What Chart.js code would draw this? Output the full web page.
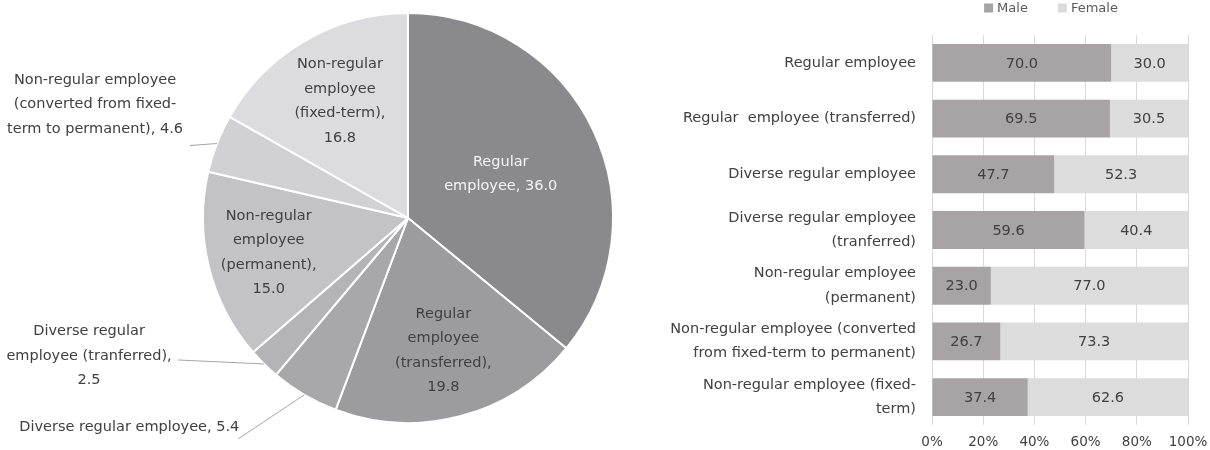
<!DOCTYPE html>
<html>
<head>
<meta charset="utf-8">
<script src="https://cdn.jsdelivr.net/npm/chart.js@4.4.1/dist/chart.umd.min.js"></script>
<style>
  html, body { margin: 0; padding: 0; background: #fff; }
  #wrap { position: relative; width: 1210px; height: 450px; }
  #pieBox { position: absolute; left: 0; top: 0; width: 620px; height: 450px; }
  #barBox { position: absolute; left: 620px; top: 0; width: 590px; height: 450px; }
</style>
</head>
<body>
<div id="wrap">
  <div id="pieBox"><canvas id="pieChart"></canvas></div>
  <div id="barBox"><canvas id="barChart"></canvas></div>
</div>
<script>
const FONT = "'DejaVu Sans', sans-serif";
const TEXT = "#404040";

// employment type breakdown (%)
const pieCategories = [
  "Regular employee",
  "Regular employee (transferred)",
  "Diverse regular employee",
  "Diverse regular employee (tranferred)",
  "Non-regular employee (permanent)",
  "Non-regular employee (converted from fixed-term to permanent)",
  "Non-regular employee (fixed-term)"
];
const pieShares = [36.0, 19.8, 5.4, 2.5, 15.0, 4.6, 16.8];
const pieColors = ["#8a8a8c", "#9c9c9e", "#a8a8aa", "#b4b4b6", "#c3c3c5", "#d1d1d3", "#dcdcde"];

// how each slice label is wrapped and placed
// own: value goes on its own line; r: radius fraction for labels inside the slice;
// out: leader end + text centre, as offsets from the slice's outer edge
const pieLabelLayout = [
  { lines: ["Regular", "employee"], own: false, r: 0.5, color: "#f4f4f4" },
  { lines: ["Regular", "employee", "(transferred)"], own: true, r: 0.67 },
  { lines: ["Diverse regular employee"], own: false, out: { line: [-66, 44], text: [-175, 32] } },
  { lines: ["Diverse regular", "employee (tranferred)"], own: true, out: { line: [-86, -4], text: [-175, -8] } },
  { lines: ["Non-regular", "employee", "(permanent)"], own: true, r: 0.7 },
  { lines: ["Non-regular employee", "(converted from fixed-", "term to permanent)"], own: false, out: { line: [-27, 2], text: [-122, -39] } },
  { lines: ["Non-regular", "employee", "(fixed-term)"], own: true, r: 0.66 }
];

// male / female split by employment type (%)
const barCategories = [
  ["Regular employee"],
  ["Regular  employee (transferred)"],
  ["Diverse regular employee"],
  ["Diverse regular employee", "(tranferred)"],
  ["Non-regular employee", "(permanent)"],
  ["Non-regular employee (converted", "from fixed-term to permanent)"],
  ["Non-regular employee (fixed-", "term)"]
];
const maleShare = [70.0, 69.5, 47.7, 59.6, 23.0, 26.7, 37.4];
const femaleShare = [30.0, 30.5, 52.3, 40.4, 77.0, 73.3, 62.6];
const seriesNames = ["Male", "Female"];
const xTickValues = [0, 20, 40, 60, 80, 100];

const LINE_H = 24.5;

function drawBlock(ctx, lines, cx, cy) {
  const top = cy - (lines.length - 1) * LINE_H / 2;
  lines.forEach((t, k) => ctx.fillText(t, cx, top + k * LINE_H));
}

// slice labels with leader lines for the thin slices
const pieLabelPlugin = {
  id: "pieLabels",
  afterDatasetsDraw(chart) {
    const ctx = chart.ctx;
    const meta = chart.getDatasetMeta(0);
    ctx.save();
    ctx.font = "14.5px " + FONT;
    ctx.textAlign = "center";
    ctx.textBaseline = "middle";
    meta.data.forEach((arc, i) => {
      const L = pieLabelLayout[i];
      const val = pieShares[i].toFixed(1);
      let lines = L.lines.slice();
      if (L.own) {
        lines[lines.length - 1] += ",";
        lines.push(val);
      } else {
        lines[lines.length - 1] += ", " + val;
      }
      const mid = (arc.startAngle + arc.endAngle) / 2;
      const R = arc.outerRadius;
      if (L.out) {
        const ex = arc.x + Math.cos(mid) * R;
        const ey = arc.y + Math.sin(mid) * R;
        ctx.strokeStyle = "#a6a6a6";
        ctx.lineWidth = 1;
        ctx.beginPath();
        ctx.moveTo(ex, ey);
        ctx.lineTo(ex + L.out.line[0], ey + L.out.line[1]);
        ctx.stroke();
        ctx.fillStyle = TEXT;
        drawBlock(ctx, lines, ex + L.out.text[0], ey + L.out.text[1]);
      } else {
        ctx.fillStyle = L.color || TEXT;
        drawBlock(ctx, lines, arc.x + Math.cos(mid) * R * L.r, arc.y + Math.sin(mid) * R * L.r);
      }
    });
    ctx.restore();
  }
};

new Chart(document.getElementById("pieChart"), {
  type: "pie",
  data: {
    labels: pieCategories,
    datasets: [{
      data: pieShares,
      backgroundColor: pieColors,
      borderColor: "#ffffff",
      borderWidth: 2
    }]
  },
  options: {
    responsive: true,
    maintainAspectRatio: false,
    animation: false,
    layout: { padding: { left: 202, right: 6, top: 12, bottom: 26 } },
    plugins: { legend: { display: false }, tooltip: { enabled: false } }
  },
  plugins: [pieLabelPlugin]
});

/* values written in the middle of each bar segment */
const barValuePlugin = {
  id: "barValues",
  afterDatasetsDraw(chart) {
    const ctx = chart.ctx;
    ctx.save();
    ctx.font = "14.5px " + FONT;
    ctx.fillStyle = TEXT;
    ctx.textAlign = "center";
    ctx.textBaseline = "middle";
    chart.data.datasets.forEach((ds, d) => {
      chart.getDatasetMeta(d).data.forEach((bar, i) => {
        ctx.fillText(ds.data[i].toFixed(1), (bar.x + bar.base) / 2, bar.y + 1);
      });
    });
    ctx.restore();
  }
};

/* small legend above the plot */
const topLegendPlugin = {
  id: "topLegend",
  afterDraw(chart) {
    const ctx = chart.ctx;
    const box = 9, gapText = 4, gapItem = 30;
    ctx.save();
    ctx.font = "13px " + FONT;
    ctx.textBaseline = "middle";
    const ds = chart.data.datasets;
    const widths = ds.map(d => box + gapText + ctx.measureText(d.label).width);
    const total = widths.reduce((a, b) => a + b, 0) + gapItem * (ds.length - 1);
    let x = 431 - total / 2;
    const y = 8;
    ds.forEach((d, i) => {
      ctx.fillStyle = d.backgroundColor;
      ctx.fillRect(x, y - box / 2, box, box);
      ctx.fillStyle = "#595959";
      ctx.fillText(d.label, x + box + gapText, y + 1);
      x += widths[i] + gapItem;
    });
    ctx.restore();
  }
};

new Chart(document.getElementById("barChart"), {
  type: "bar",
  data: {
    labels: barCategories,
    datasets: [
      { label: seriesNames[0], data: maleShare, backgroundColor: "#a6a4a5" },
      { label: seriesNames[1], data: femaleShare, backgroundColor: "#dcdcdd" }
    ]
  },
  options: {
    indexAxis: "y",
    responsive: true,
    maintainAspectRatio: false,
    animation: false,
    categoryPercentage: 1,
    barPercentage: 0.68,
    layout: { padding: { left: 0, right: 22, top: 35, bottom: 0 } },
    scales: {
      x: {
        stacked: true,
        min: 0,
        max: 100,
        afterBuildTicks(scale) { scale.ticks = xTickValues.map(v => ({ value: v })); },
        afterFit(scale) {
          scale.height = 25;
          scale.paddingLeft = 0;
          scale.paddingRight = 0;
        },
        grid: { color: "#d9d9d9", drawTicks: false },
        border: { display: false },
        ticks: {
          color: TEXT,
          padding: 9,
          font: { family: FONT, size: 13.5 },
          callback: v => v + "%"
        }
      },
      y: {
        stacked: true,
        grid: { display: false, drawTicks: false },
        border: { display: false },
        afterFit(scale) {
          scale.width = 312;
          scale.paddingTop = 0;
          scale.paddingBottom = 0;
        },
        ticks: {
          color: TEXT,
          padding: 16,
          font: { family: FONT, size: 14.5, lineHeight: 1.69 }
        }
      }
    },
    plugins: { legend: { display: false }, tooltip: { enabled: false } }
  },
  plugins: [barValuePlugin, topLegendPlugin]
});
</script>
</body>
</html>
